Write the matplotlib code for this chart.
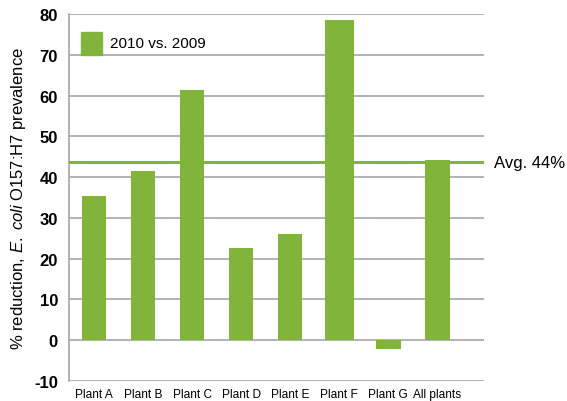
import numpy as np
import matplotlib.pyplot as plt
from matplotlib.patches import Rectangle

plt.rcParams['font.family'] = ['Liberation Sans', 'DejaVu Sans']
plt.rcParams['mathtext.fontset'] = 'custom'
plt.rcParams['mathtext.it'] = 'Liberation Sans:italic'
plt.rcParams['mathtext.rm'] = 'Liberation Sans'
plt.rcParams['axes.unicode_minus'] = False

# Data
plants = ["Plant A", "Plant B", "Plant C", "Plant D", "Plant E", "Plant F", "Plant G", "All plants"]
reduction = [35.3, 41.4, 61.3, 22.5, 26.0, 78.6, -2.2, 44.1]
avg_value = 43.6
avg_label = "Avg. 44%"
series_label = "2010 vs. 2009"

green = "#80b43a"
grid_col = "#a6a6a6"

fig = plt.figure(figsize=(5.67, 4.02), dpi=100)
ax = fig.add_axes([0.1217, 0.0498, 0.7319, 0.9129])

x = np.arange(len(plants))
widths = [0.5] * len(plants)
widths[5] = 0.6
ax.bar(x, reduction, width=widths, color=green, zorder=3)
ax.axhline(avg_value, color=green, lw=2.2, zorder=4)

ax.set_ylim(-10, 80)
ax.set_xlim(-0.51, 7.95)
ax.set_yticks(np.arange(-10, 81, 10))
ax.yaxis.grid(True, color=grid_col, lw=1.2, zorder=0)
ax.set_axisbelow(True)
for s in ["top", "right", "bottom"]:
    ax.spines[s].set_visible(False)
ax.spines["left"].set_color(grid_col)
ax.spines["left"].set_linewidth(1.2)
ax.tick_params(length=0)
ax.tick_params(axis="y", labelsize=12, pad=8)
for lab in ax.get_yticklabels():
    lab.set_fontweight("bold")
ax.set_xticks(x)
ax.set_xticklabels(plants, fontsize=8.6)
ax.tick_params(axis="x", pad=5)

ax.set_ylabel(r"% reduction, $\mathit{E.\ coli}$ O157:H7 prevalence", fontsize=12, labelpad=4)

ax.text(1.025, avg_value, avg_label, transform=ax.get_yaxis_transform(),
        va="center", ha="left", fontsize=12)

# legend
ax.add_patch(Rectangle((0.029, 0.888), 0.05, 0.064, transform=ax.transAxes,
                       color=green, clip_on=False, zorder=5))
ax.text(0.099, 0.92, series_label, transform=ax.transAxes, va="center",
        ha="left", fontsize=11)

fig.savefig("out.png", dpi=100)
